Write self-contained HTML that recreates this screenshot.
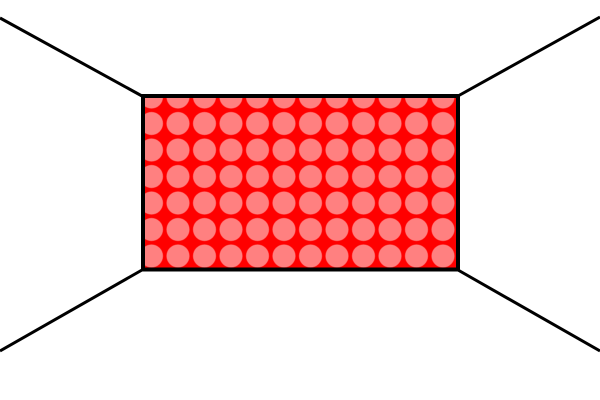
<!DOCTYPE html>
<html><head><meta charset="utf-8"><style>html,body{margin:0;padding:0;background:#fff}svg{display:block}</style></head>
<body>
<svg width="600" height="400" viewBox="0 0 600 400">
<defs>
<pattern id="dots" patternUnits="userSpaceOnUse" x="138.25" y="83.75" width="26.5" height="26.5">
<rect width="26.5" height="26.5" fill="#ff0000"/>
<circle cx="13.25" cy="13.25" r="11.5" fill="#ff8080"/>
</pattern>
</defs>
<line x1="0" y1="18" x2="142" y2="96" stroke="#000" stroke-width="3"/>
<line x1="600" y1="17" x2="458" y2="96" stroke="#000" stroke-width="3"/>
<line x1="0" y1="351" x2="142" y2="270" stroke="#000" stroke-width="3"/>
<line x1="600" y1="351" x2="458" y2="270" stroke="#000" stroke-width="3"/>
<rect x="143" y="96" width="315" height="173.5" fill="url(#dots)" stroke="#000" stroke-width="4"/>
</svg>
</body></html>
